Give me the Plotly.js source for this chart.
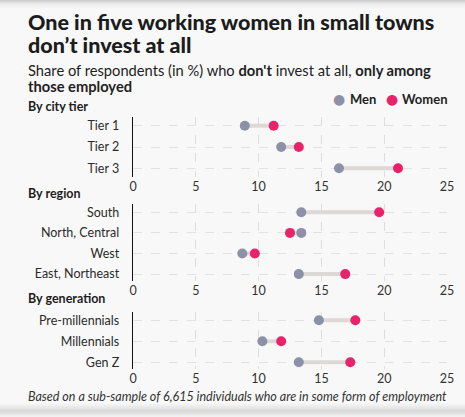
<!DOCTYPE html>
<html>
<head>
<meta charset="utf-8">
<script src="https://cdn.plot.ly/plotly-3.0.1.min.js"></script>
<style>
  html, body { margin: 0; padding: 0; }
  #wrap {
    width: 465px; height: 417px; position: relative;
    background: linear-gradient(to bottom, #c9c9c9 0px, #ececec 4px, #f8f8f8 9px, #f8f8f8 403px, #e2e2e2 409px, #d6d6d6 411px, #f3f3f3 417px);
  }
  #chart { width: 465px; height: 417px; }
</style>
</head>
<body>
<div id="wrap"><div id="chart"></div></div>
<script>
// ---- data ----
const tierCats = ["Tier 1", "Tier 2", "Tier 3"];
const tierMen = [8.9, 11.8, 16.4];
const tierWomen = [11.2, 13.2, 21.1];

const regionCats = ["South", "North, Central", "West", "East, Northeast"];
const regionMen = [13.4, 13.4, 8.7, 13.2];
const regionWomen = [19.6, 12.5, 9.7, 16.9];

const genCats = ["Pre-millennials", "Millennials", "Gen Z"];
const genMen = [14.8, 10.3, 13.2];
const genWomen = [17.7, 11.8, 17.3];

const xTicks = [0, 5, 10, 15, 20, 25];
const seriesNames = ["Men", "Women"];

// ---- styling ----
const MEN = "#8c91a7";
const WOMEN = "#e8226b";
const LINK = "#ddd7d5";
const FONT = "Lato, 'Open Sans', sans-serif";
const W = 465, H = 417;
const py = p => 1 - p / H;
const px = p => p / W;

const panels = [
  {cats: tierCats, men: tierMen, women: tierWomen, top: 117, bottom: 177, r0: 125.7, step: 21.3},
  {cats: regionCats, men: regionMen, women: regionWomen, top: 204, bottom: 281, r0: 212.3, step: 20.6},
  {cats: genCats, men: genMen, women: genWomen, top: 312, bottom: 369, r0: 320.3, step: 21.0}
];

const traces = [];
const layout = {
  width: W, height: H,
  margin: {l: 0, r: 0, t: 0, b: 0},
  paper_bgcolor: "rgba(0,0,0,0)",
  plot_bgcolor: "rgba(0,0,0,0)",
  showlegend: false,
  font: {family: FONT, color: "#2b2b2b", size: 12},
  annotations: [],
  shapes: []
};

panels.forEach((p, i) => {
  const n = i === 0 ? "" : String(i + 1);
  const xa = "x" + n, ya = "y" + n;
  // connectors
  const lx = [], ly = [];
  p.cats.forEach((c, k) => { lx.push(p.men[k], p.women[k], null); ly.push(c, c, null); });
  traces.push({type: "scatter", mode: "lines", x: lx, y: ly, xaxis: xa, yaxis: ya,
    line: {color: LINK, width: 4}, hoverinfo: "skip"});
  traces.push({type: "scatter", mode: "markers", name: seriesNames[0], x: p.men, y: p.cats, xaxis: xa, yaxis: ya,
    marker: {color: MEN, size: 10}});
  traces.push({type: "scatter", mode: "markers", name: seriesNames[1], x: p.women, y: p.cats, xaxis: xa, yaxis: ya,
    marker: {color: WOMEN, size: 10}});

  const topVal = (p.top - p.r0) / p.step;
  const botVal = (p.bottom - p.r0) / p.step;
  layout["xaxis" + n] = {
    domain: [px(133), px(447)], anchor: ya, range: [0, 25],
    tickvals: xTicks, ticktext: xTicks.map(String),
    showgrid: true, gridcolor: "#dedede", griddash: "dash", gridwidth: 1,
    zeroline: false, showline: false, ticks: "",
    tickfont: {family: FONT, size: 12.5, color: "#333"}, ticklabelstandoff: 0,
    fixedrange: true
  };
  layout["yaxis" + n] = {
    domain: [py(p.bottom), py(p.top)], anchor: xa,
    type: "category", categoryorder: "array", categoryarray: p.cats,
    range: [botVal, topVal],
    showgrid: true, gridcolor: "#e2e2e2", griddash: "dash", gridwidth: 1,
    zeroline: false, showline: true, linecolor: "#111", linewidth: 1.3,
    ticks: "", ticklabelstandoff: 10,
    tickfont: {family: FONT, size: 12.5, color: "#2b2b2b"},
    fixedrange: true
  };
});

const ann = (text, x, y, opts) => Object.assign({
  text, x: px(x), y: py(y), xref: "paper", yref: "paper",
  xanchor: "left", yanchor: "middle", showarrow: false,
  font: {family: FONT, size: 12, color: "#1e1e1e"}
}, opts || {});

layout.annotations.push(
  ann("One in five working women in small towns", 26, 22, {font: {family: FONT, size: 21.5, color: "#1c1c1c", weight: 900}}),
  ann("don’t invest at all", 26, 45, {font: {family: FONT, size: 21.5, color: "#1c1c1c", weight: 900}}),
  ann("Share of respondents (in %) who <b>don't</b> invest at all, <b>only among</b>", 26, 70, {font: {family: FONT, size: 14.7, color: "#222"}}),
  ann("<b>those employed</b>", 26, 85.5, {font: {family: FONT, size: 14.7, color: "#222"}}),
  ann("●", 339, 99, {xanchor: "center", font: {family: "DejaVu Sans", size: 14, color: MEN}}),
  ann("<b>" + seriesNames[0] + "</b>", 348, 99, {font: {family: FONT, size: 13, color: "#222"}}),
  ann("●", 392, 99, {xanchor: "center", font: {family: "DejaVu Sans", size: 14, color: WOMEN}}),
  ann("<b>" + seriesNames[1] + "</b>", 400, 99, {font: {family: FONT, size: 13, color: "#222"}}),
  ann("<b>By city tier</b>", 26, 107, {font: {family: FONT, size: 12.5, color: "#1e1e1e"}}),
  ann("<b>By region</b>", 26, 193, {font: {family: FONT, size: 12.5, color: "#1e1e1e"}}),
  ann("<b>By generation</b>", 26, 298, {font: {family: FONT, size: 12.5, color: "#1e1e1e"}}),
  ann("<i>Based on a sub-sample of 6,615 individuals who are in some form of employment</i>", 449, 396, {xanchor: "right", font: {family: FONT, size: 12.5, color: "#333"}})
);

Plotly.newPlot("chart", traces, layout, {displayModeBar: false, staticPlot: true});
</script>
</body>
</html>
